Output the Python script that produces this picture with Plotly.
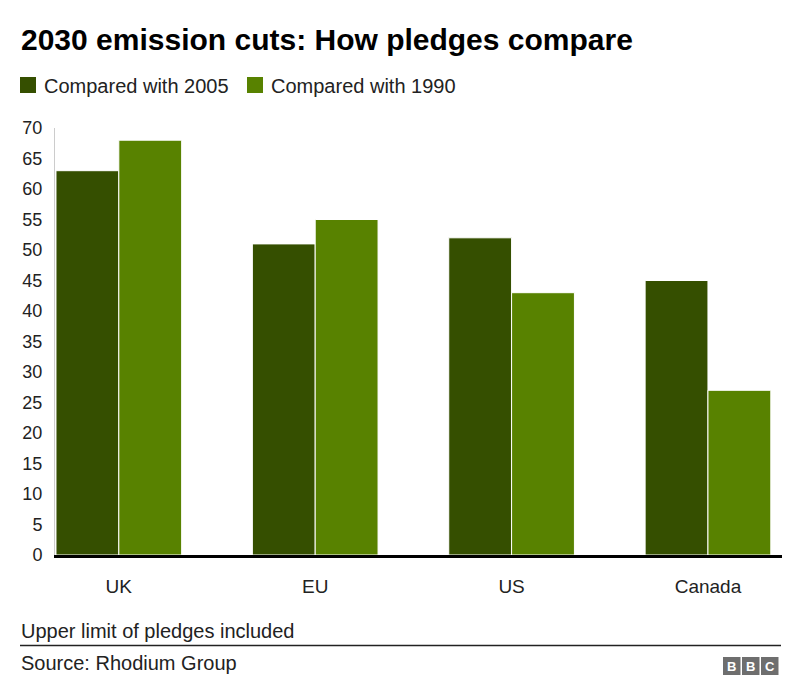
import plotly.graph_objects as go

categories = ["UK", "EU", "US", "Canada"]
series_names = ["Compared with 2005", "Compared with 1990"]
values_2005 = [63, 51, 52, 45]
values_1990 = [68, 55, 43, 27]
y_ticks = list(range(0, 75, 5))

title = "2030 emission cuts: How pledges compare"
note = "Upper limit of pledges included"
source = "Source: Rhodium Group"

colors = ["#354f00", "#588200"]
FONT = "Liberation Sans, Arial, Helvetica, sans-serif"

# page body has an 8px margin; the figure is sized/placed to compensate
OFF = 8
W, H = 800 - OFF, 700 - 2 * OFF
PLOT_L, PLOT_R, PLOT_T, PLOT_B = 55, 782, 128, 555  # screen pixels
ML, MR = PLOT_L - OFF, 800 - PLOT_R
MT, MB = PLOT_T - OFF, (OFF + H) - PLOT_B
PW, PH = W - ML - MR, H - MT - MB


def px(x):
    return (x - PLOT_L) / PW


def py(y):
    return (PLOT_B - y) / PH


fig = go.Figure()
for name, vals, col in zip(series_names, [values_2005, values_1990], colors):
    fig.add_trace(go.Bar(
        x=categories, y=vals, name=name,
        marker=dict(color=col, line=dict(color="white", width=1)),
        showlegend=False,
    ))

annotations = []
shapes = []

# Title
annotations.append(dict(x=px(19), y=py(39), xref="paper", yref="paper",
                        text="<b>" + title + "</b>", showarrow=False,
                        xanchor="left", yanchor="middle",
                        font=dict(family=FONT, size=30, color="#000")))

# Manual legend
leg_x = [20, 247]
for lx, name, col in zip(leg_x, series_names, colors):
    shapes.append(dict(type="rect", xref="paper", yref="paper",
                       x0=px(lx), x1=px(lx + 16), y0=py(77), y1=py(93),
                       fillcolor=col, line=dict(width=0)))
    annotations.append(dict(x=px(lx + 22), y=py(86), xref="paper", yref="paper",
                            text=name, showarrow=False, xanchor="left", yanchor="middle",
                            font=dict(family=FONT, size=20, color="#222")))

# Footer
annotations.append(dict(x=px(19), y=py(631), xref="paper", yref="paper",
                        text=note, showarrow=False, xanchor="left", yanchor="middle",
                        font=dict(family=FONT, size=20, color="#222")))
shapes.append(dict(type="line", xref="paper", yref="paper",
                   x0=px(20), x1=px(781), y0=py(645.5), y1=py(645.5),
                   line=dict(color="#222", width=1.5)))
annotations.append(dict(x=px(19), y=py(663), xref="paper", yref="paper",
                        text=source, showarrow=False, xanchor="left", yanchor="middle",
                        font=dict(family=FONT, size=20, color="#222")))

# BBC logo
for i, letter in enumerate("BBC"):
    x0 = 723 + i * 19
    shapes.append(dict(type="rect", xref="paper", yref="paper",
                       x0=px(x0), x1=px(x0 + 17.5), y0=py(657), y1=py(675),
                       fillcolor="#6e6e6e", line=dict(width=0)))
    annotations.append(dict(x=px(x0 + 8.75), y=py(666), xref="paper", yref="paper",
                            text="<b>" + letter + "</b>", showarrow=False,
                            xanchor="center", yanchor="middle",
                            font=dict(family=FONT, size=13, color="white")))

fig.update_layout(
    width=W, height=H,
    margin=dict(l=ML, r=MR, t=MT, b=MB, pad=0),
    paper_bgcolor="white", plot_bgcolor="white",
    barmode="group", bargap=0.36, bargroupgap=0.0,
    font=dict(family=FONT, size=18, color="#222"),
    annotations=annotations, shapes=shapes,
    xaxis=dict(type="category", range=[-0.325, 3.377], showgrid=False,
               showline=True, linecolor="#000", linewidth=2.5,
               ticks="", ticklabelstandoff=12,
               tickfont=dict(family=FONT, size=19, color="#222"), zeroline=False),
    yaxis=dict(range=[0, 70], tickvals=y_ticks, showgrid=False,
               showline=True, linecolor="#cccccc", linewidth=1,
               ticks="", ticklabelstandoff=8, zeroline=False,
               tickfont=dict(family=FONT, size=18, color="#222")),
)

fig.write_html("out.html")
